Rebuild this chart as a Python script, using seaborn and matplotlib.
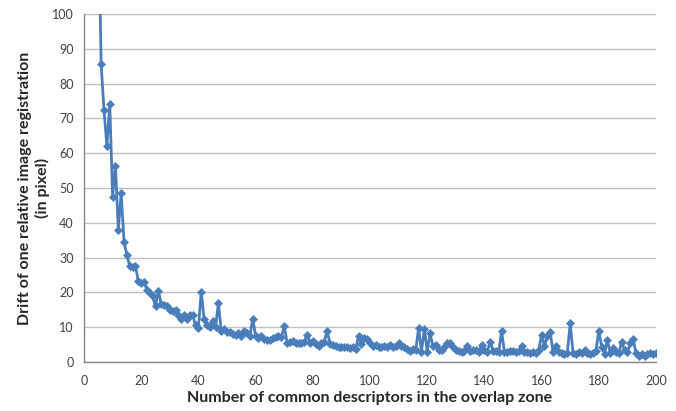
import matplotlib
matplotlib.use("Agg")
import matplotlib.pyplot as plt
import seaborn as sns
import pandas as pd

# number of common descriptors (x) and drift in pixel (y)
descriptors = list(range(5, 201))
drift = [
    130, 85.5, 72.3, 62.1, 74.2, 47.5, 56.4, 38, 48.5, 34.4,          # 5-14
    30.8, 27.5, 27.2, 27.5, 23.2, 22.7, 22.9, 20.8, 19.8, 18.9,       # 15-24
    16, 20.5, 16.6, 16.5, 16.2, 15, 14.6, 14.8, 13.6, 12.5,           # 25-34
    13.6, 12.5, 13.5, 13.6, 10.5, 9.8, 20.2, 12.3, 10.5, 10,          # 35-44
    11.7, 10.2, 16.9, 8.8, 9.4, 8.5, 8.5, 8, 7.8, 8.2,                # 45-54
    7.6, 9, 8.2, 7.5, 12.4, 7.5, 6.8, 7.4, 6.6, 6.2,                  # 55-64
    6.4, 6.8, 7.3, 7.4, 7.2, 10.3, 5.6, 5.8, 6, 5.6,                  # 65-74
    5.6, 5.5, 5.7, 7.9, 5.6, 6, 5.2, 4.6, 5.5, 5.8,                   # 75-84
    9, 5.3, 4.8, 4.6, 4.4, 4.3, 4.2, 4.2, 4, 4.3,                     # 85-94
    3.8, 7.4, 5.2, 6.8, 6.6, 5.6, 4.6, 4.8, 4.4, 4.2,                 # 95-104
    4.6, 4.2, 5, 4.2, 4.6, 5.4, 4.6, 4.4, 3.8, 3.2,                   # 105-114
    3.6, 3.4, 9.8, 3, 9.6, 3, 8.2, 4.6, 5, 3.4,                       # 115-124
    3.4, 4.2, 5.4, 5.6, 4.4, 3.4, 3.2, 2.8, 3.2, 4.6,                 # 125-134
    3.2, 3.4, 3.5, 3, 4.8, 3.4, 3, 5.8, 3.2, 3.3,                     # 135-144
    2.8, 8.9, 2.9, 3, 3.1, 3.2, 2.8, 3.2, 4.5, 2.9,                   # 145-154
    3, 2.6, 2.8, 2.6, 3.5, 7.8, 4.6, 7.5, 8.6, 3,                     # 155-164
    4.5, 3, 2.6, 2.4, 2.6, 11.1, 2.5, 2.4, 3, 2.6,                    # 165-174
    3.4, 2.6, 2.4, 2.5, 3.2, 9, 4.4, 2.4, 6.4, 2.6,                   # 175-184
    4, 3, 2.6, 5.8, 3.4, 2.8, 5.4, 6.6, 2.6, 1.8,                     # 185-194
    2.4, 1.8, 2.2, 2.6, 2.3, 2.6,                                     # 195-200
]
x_ticks = list(range(0, 201, 20))
y_ticks = list(range(0, 101, 10))

df = pd.DataFrame({"descriptors": descriptors, "drift": drift})

sns.set_style("white")
plt.rcParams["font.family"] = ["Lato", "DejaVu Sans"]

fig = plt.figure(figsize=(6.76, 4.11), dpi=100)
ax = fig.add_axes([84 / 676, 49 / 411, 572 / 676, 348 / 411])

sns.lineplot(data=df, x="descriptors", y="drift", ax=ax, color="#4a7ebb",
             linewidth=2, marker="D", markersize=4, markeredgewidth=0.5,
             markeredgecolor="#4a7ebb")

ax.set_xlim(0, 200)
ax.set_ylim(0, 100)
ax.set_xticks(x_ticks)
ax.set_yticks(y_ticks)
ax.yaxis.grid(True, color="#bfbfbf", linewidth=1)
ax.xaxis.grid(False)
ax.set_axisbelow(True)

for side in ["top", "right"]:
    ax.spines[side].set_visible(False)
for side in ["left", "bottom"]:
    ax.spines[side].set_color("#868686")
    ax.spines[side].set_linewidth(1)

ax.tick_params(axis="both", which="major", direction="out", length=4,
               width=1, color="#868686", labelsize=9, labelcolor="#404040")
ax.tick_params(axis="x", pad=5)

ax.set_xlabel("Number of common descriptors in the overlap zone",
              fontsize=11.5, fontweight="bold", labelpad=3)
ax.set_ylabel("Drift of one relative image registration\n(in pixel)",
              fontsize=11.5, fontweight="bold", labelpad=1, linespacing=1.3)

fig.savefig("out.png", dpi=100)
